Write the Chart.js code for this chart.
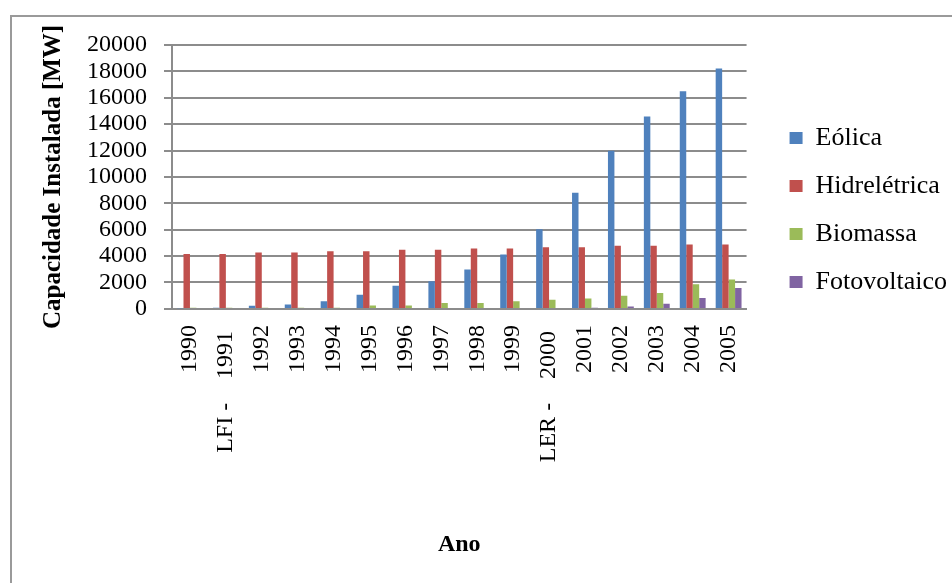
<!DOCTYPE html>
<html>
<head>
<meta charset="utf-8">
<script src="https://cdn.jsdelivr.net/npm/chart.js@4/dist/chart.umd.min.js"></script>
<style>
  html, body { margin: 0; padding: 0; background: #fff; overflow: hidden; width: 952px; height: 583px; }
  #frame { position: absolute; left: 10px; top: 15px; width: 1200px; height: 1200px;
           border-left: 2px solid #9a9a9a; border-top: 2px solid #9a9a9a; }
  #wrap { position: absolute; left: 0; top: 0; width: 952px; height: 583px; }
</style>
</head>
<body>
<div id="frame"></div>
<div id="wrap"><canvas id="chart" width="952" height="583"></canvas></div>
<script>
// Installed capacity per year, in MW
const years = ['1990', 'LFI -    1991 ', '1992', '1993', '1994', '1995', '1996', '1997',
               '1998', '1999', 'LER -    2000 ', '2001', '2002', '2003', '2004', '2005'];
const seriesNames = ['Eólica', 'Hidrelétrica', 'Biomassa', 'Fotovoltaico'];
const eolica       = [40, 80, 230, 330, 580, 1080, 1760, 2090, 2990, 4130, 6040, 8800, 11980, 14590, 16500, 18210];
const hidreletrica = [4150, 4150, 4270, 4270, 4370, 4370, 4480, 4480, 4580, 4580, 4680, 4680, 4780, 4780, 4880, 4880];
const biomassa     = [80, 90, 90, 90, 90, 250, 250, 450, 450, 580, 690, 790, 1000, 1200, 1870, 2230];
const fotovoltaico = [0, 0, 0, 0, 0, 0, 0, 0, 0, 0, 60, 80, 180, 380, 820, 1590];
const yTicks = [0, 2000, 4000, 6000, 8000, 10000, 12000, 14000, 16000, 18000, 20000];

const colors = ['#4F81BD', '#C0504D', '#9BBB59', '#8064A2'];
const gridColor = '#8c8c8c';
const serif = "'Liberation Serif', 'Times New Roman', serif";

// Moves the legend block a little away from the plot area and down beside it
const legendOffset = {
  id: 'legendOffset',
  afterLayout(chart) {
    const l = chart.legend;
    l.left += 21; l.right += 21;
    l.top += 58; l.bottom += 58;
  }
};

const seriesData = [eolica, hidreletrica, biomassa, fotovoltaico];

new Chart(document.getElementById('chart'), {
  type: 'bar',
  data: {
    labels: years,
    datasets: seriesNames.map((name, i) => ({
      label: name,
      data: seriesData[i],
      backgroundColor: colors[i],
      borderWidth: 0,
      categoryPercentage: 0.72,
      barPercentage: 1.0
    }))
  },
  options: {
    responsive: false,
    animation: false,
    layout: { padding: { left: 29, top: 45, right: 16, bottom: 20 } },
    font: { family: serif },
    plugins: {
      tooltip: { enabled: false },
      legend: {
        position: 'right',
        align: 'start',
        labels: {
          boxWidth: 13,
          boxHeight: 12,
          padding: 22,
          color: '#000',
          font: { family: serif, size: 26 }
        }
      }
    },
    scales: {
      x: {
        grid: { display: false, drawTicks: false },
        border: { display: true, color: gridColor, width: 2 },
        ticks: {
          autoSkip: false,
          maxRotation: 90,
          minRotation: 90,
          padding: 16,
          color: '#000',
          font: { family: serif, size: 24 }
        },
        title: {
          display: true,
          text: 'Ano',
          color: '#000',
          font: { family: serif, size: 24, weight: 'bold' },
          padding: { top: 52, bottom: 4 }
        }
      },
      y: {
        min: 0,
        max: 20000,
        afterBuildTicks(scale) { scale.ticks = yTicks.map(v => ({ value: v })); },
        grid: { color: gridColor, lineWidth: 2, tickLength: 8, drawTicks: true },
        border: { display: true, color: gridColor, width: 2 },
        ticks: {
          autoSkip: false,
          padding: 17,
          color: '#000',
          font: { family: serif, size: 24 },
          callback: (v) => String(v)
        },
        title: {
          display: true,
          text: 'Capacidade Instalada [MW]',
          color: '#000',
          font: { family: serif, size: 25, weight: 'bold' },
          padding: { top: 10, bottom: 1 }
        }
      }
    }
  },
  plugins: [legendOffset]
});
</script>
</body>
</html>
